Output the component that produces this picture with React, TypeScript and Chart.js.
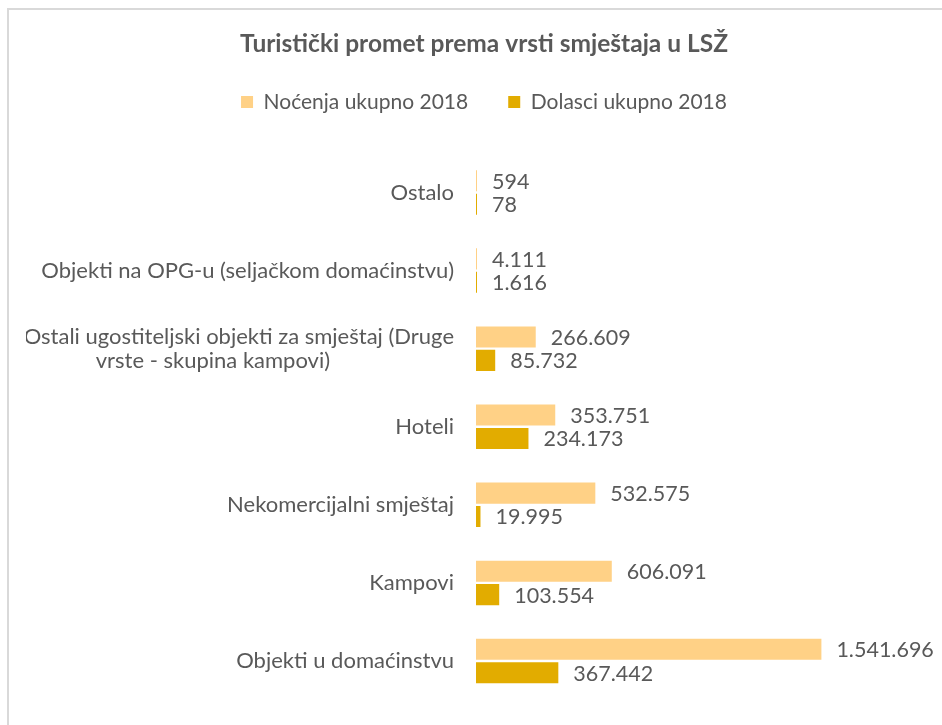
import React, { useEffect, useRef } from "react";
import { Chart, registerables } from "chart.js";

Chart.register(...registerables);

const categories: (string | string[])[] = [
  "Ostalo",
  "Objekti na OPG-u (seljačkom domaćinstvu)",
  ["Ostali ugostiteljski objekti za smještaj (Druge", "vrste - skupina kampovi)"],
  "Hoteli",
  "Nekomercijalni smještaj",
  "Kampovi",
  "Objekti u domaćinstvu",
];
const nocenja = [594, 4111, 266609, 353751, 532575, 606091, 1541696];
const dolasci = [78, 1616, 85732, 234173, 19995, 103554, 367442];
const seriesNames = ["Noćenja ukupno 2018", "Dolasci ukupno 2018"];
const titleText = "Turistički promet prema vrsti smještaja u LSŽ";

const FONT = "Lato, 'Liberation Sans', sans-serif";
const TEXT = "#595959";

const fmt = (v: number) => String(v).replace(/\B(?=(\d{3})+(?!\d))/g, ".");

const dataLabels = {
  id: "dataLabels",
  afterDatasetsDraw(chart: any) {
    const ctx = chart.ctx;
    ctx.save();
    ctx.font = `21.5px ${FONT}`;
    ctx.fillStyle = TEXT;
    ctx.textAlign = "left";
    ctx.textBaseline = "middle";
    chart.data.datasets.forEach((ds: any, i: number) => {
      const meta = chart.getDatasetMeta(i);
      meta.data.forEach((bar: any, j: number) => {
        ctx.fillText(fmt(ds.data[j]), bar.x + 15, bar.y + 1);
      });
    });
    ctx.restore();
  },
};

const legendGap = {
  id: "legendGap",
  beforeInit(chart: any) {
    const orig = chart.legend.fit;
    chart.legend.fit = function () {
      orig.call(this);
      this.height += 31;
    };
  },
};

export default function App() {
  const ref = useRef<HTMLCanvasElement>(null);
  useEffect(() => {
    if (!ref.current) return;
    const chart = new Chart(ref.current, {
      type: "bar",
      data: {
        labels: categories,
        datasets: [
          {
            label: seriesNames[0],
            data: nocenja,
            backgroundColor: "#FFD186",
            categoryPercentage: 0.6,
            barPercentage: 0.9,
            minBarLength: 1,
          },
          {
            label: seriesNames[1],
            data: dolasci,
            backgroundColor: "#E2AC00",
            categoryPercentage: 0.6,
            barPercentage: 0.9,
            minBarLength: 1,
          },
        ],
      },
      options: {
        indexAxis: "y",
        responsive: false,
        animation: false,
        devicePixelRatio: 1,
        layout: { padding: { top: 0, bottom: 25, left: 26, right: 0 } },
        plugins: {
          title: {
            display: true,
            text: titleText,
            color: TEXT,
            font: { family: FONT, size: 24.5, weight: "bold", lineHeight: 1 },
            padding: { top: 32, bottom: -5 },
          },
          legend: {
            display: true,
            position: "top",
            labels: {
              color: TEXT,
              font: { family: FONT, size: 21, lineHeight: 1 },
              boxWidth: 12,
              boxHeight: 12,
              padding: 40,
            },
          },
          tooltip: { enabled: false },
        },
        scales: {
          x: {
            display: false,
            min: 0,
            max: 2080000,
            grid: { display: false },
          },
          y: {
            grid: { display: false, drawTicks: false },
            border: { display: false },
            ticks: {
              color: TEXT,
              font: { family: FONT, size: 22, lineHeight: 1.1 },
              padding: 22,
              callback(value: any, index: number) {
                const lbl = categories[index];
                if (Array.isArray(lbl)) {
                  return lbl.map((line, k) => (k === lbl.length - 1 ? line + " ".repeat(22) : line));
                }
                return lbl;
              },
            },
            afterFit(scale: any) {
              scale.width = 450;
              scale.paddingTop = 0;
              scale.paddingBottom = 0;
            },
          },
        },
      },
      plugins: [dataLabels, legendGap],
    });
    return () => chart.destroy();
  }, []);

  return (
    <div style={{ position: "fixed", left: 0, top: 0, width: 942, height: 725, background: "#fff", overflow: "hidden" }}>
      <div
        style={{
          position: "absolute",
          left: 7,
          top: 8,
          width: 1000,
          height: 1000,
          borderLeft: "2px solid #D9D9D9",
          borderTop: "2px solid #D9D9D9",
        }}
      />
      <canvas ref={ref} width={942} height={725} style={{ position: "absolute", left: 0, top: 0 }} />
    </div>
  );
}
